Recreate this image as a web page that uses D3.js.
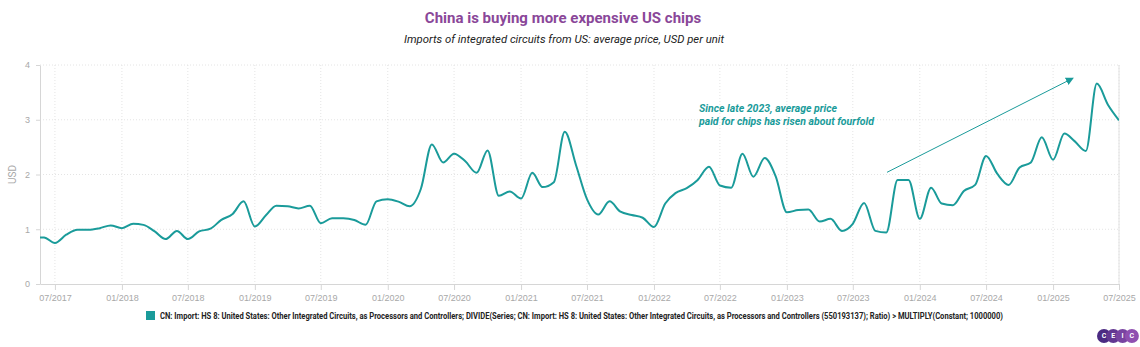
<!DOCTYPE html>
<html lang="en">
<head>
<meta charset="UTF-8">
<script src="https://d3js.org/d3.v7.min.js"></script>
<style>
    body { margin: 0; background: #fff; font-family: Roboto, "Noto Sans", sans-serif; }
    .grid line { stroke: #e4e4e4; stroke-dasharray: 1,2; }
    .axis text { fill: #a8a8a8; font-size: 9px; }
    .axis path, .axis line { stroke: #d6d6d6; }
</style>
</head>
<body>
<script>
    // monthly observations, May 2017 .. Jul 2025
    var startMonth = "2017-05";
    var prices = [
        0.85, 0.85, 0.75, 0.90, 0.99, 0.99, 1.02, 1.07,
        1.02, 1.10, 1.08, 0.96, 0.82, 0.97, 0.82, 0.96, 1.01, 1.17, 1.28, 1.51,
        1.05, 1.26, 1.43, 1.42, 1.38, 1.43, 1.11, 1.20, 1.20, 1.17, 1.08, 1.51,
        1.55, 1.50, 1.42, 1.74, 2.55, 2.22, 2.38, 2.24, 2.03, 2.44, 1.61, 1.69,
        1.56, 2.03, 1.77, 1.86, 2.78, 2.17, 1.55, 1.27, 1.51, 1.32, 1.26, 1.21,
        1.04, 1.47, 1.66, 1.75, 1.90, 2.14, 1.80, 1.76, 2.38, 1.96, 2.30, 1.97,
        1.31, 1.35, 1.36, 1.14, 1.19, 0.97, 1.10, 1.48, 0.97, 0.94, 1.90, 1.90,
        1.19, 1.76, 1.47, 1.44, 1.70, 1.81, 2.34, 2.01, 1.81, 2.13, 2.22, 2.68,
        2.27, 2.75, 2.61, 2.43, 3.66, 3.27, 2.99
    ];
    var yTicks = [0, 1, 2, 3, 4];
    var xTicks = ["2017-07", "2018-01", "2018-07", "2019-01", "2019-07", "2020-01", "2020-07",
        "2021-01", "2021-07", "2022-01", "2022-07", "2023-01", "2023-07", "2024-01",
        "2024-07", "2025-01", "2025-07"];
    var xDomain = ["2017-05-21", "2025-07-01"];

    var title = "China is buying more expensive US chips";
    var subtitle = "Imports of integrated circuits from US: average price, USD per unit";
    var yLabel = "USD";
    var noteLines = ["Since late 2023, average price", "paid for chips has risen about fourfold"];
    var arrowFrom = ["2023-10-03", 2.04];
    var arrowTo = ["2025-02-25", 3.76];
    var legendText = "CN: Import: HS 8: United States: Other Integrated Circuits, as Processors and Controllers; DIVIDE(Series; CN: Import: HS 8: United States: Other Integrated Circuits, as Processors and Controllers (550193137); Ratio) > MULTIPLY(Constant; 1000000)";
    var logoLetters = ["C", "E", "I", "C"];

    var teal = "#1a9b9a";
    var W = 1140, H = 347;
    var margin = {top: 65, right: 21, bottom: 63, left: 40};
    var width = W - margin.left - margin.right,
        height = H - margin.top - margin.bottom;

    var parseMonth = d3.timeParse("%Y-%m");
    var parseDay = d3.timeParse("%Y-%m-%d");
    var m0 = parseMonth(startMonth);
    var data = prices.map(function (v, i) {
        return {date: d3.timeMonth.offset(m0, i), value: v};
    });

    var svg = d3.select("body").append("svg")
        .attr("width", W)
        .attr("height", H);

    svg.append("text")
        .attr("x", 563).attr("y", 23)
        .attr("text-anchor", "middle")
        .style("font-size", "15px").style("font-weight", "bold")
        .style("fill", "#8a4799")
        .text(title);

    svg.append("text")
        .attr("x", 564).attr("y", 43)
        .attr("text-anchor", "middle")
        .style("font-size", "11.3px").style("font-style", "italic")
        .style("fill", "#222")
        .text(subtitle);

    var g = svg.append("g")
        .attr("transform", "translate(" + margin.left + "," + margin.top + ")");

    var x = d3.scaleTime()
        .domain(xDomain.map(parseDay))
        .range([0, width]);
    var y = d3.scaleLinear()
        .domain([0, 4])
        .range([height, 0]);

    // grid
    g.append("g").attr("class", "grid")
        .selectAll("line")
        .data(yTicks.filter(function (d) { return d > 0; }))
        .enter().append("line")
        .attr("x1", 0).attr("x2", width)
        .attr("y1", function (d) { return y(d); })
        .attr("y2", function (d) { return y(d); });

    g.append("g").attr("class", "grid")
        .selectAll("line")
        .data(xTicks.map(parseMonth))
        .enter().append("line")
        .attr("x1", function (d) { return x(d); })
        .attr("x2", function (d) { return x(d); })
        .attr("y1", 0).attr("y2", height);

    // right border
    g.append("line")
        .attr("x1", width).attr("x2", width)
        .attr("y1", 0).attr("y2", height)
        .style("stroke", "#e2e2e2");

    // axes
    g.append("g").attr("class", "axis")
        .attr("transform", "translate(0," + height + ")")
        .call(d3.axisBottom(x)
            .tickValues(xTicks.map(parseMonth))
            .tickFormat(d3.timeFormat("%m/%Y"))
            .tickSize(6)
            .tickSizeOuter(0)
            .tickPadding(5));

    g.append("g").attr("class", "axis")
        .call(d3.axisLeft(y)
            .tickValues(yTicks)
            .tickFormat(d3.format("d"))
            .tickSize(4)
            .tickSizeOuter(0)
            .tickPadding(6));

    svg.append("text")
        .attr("transform", "translate(16," + (margin.top + height / 2) + ") rotate(-90)")
        .attr("text-anchor", "middle")
        .style("font-size", "10px")
        .style("fill", "#a8a8a8")
        .text(yLabel);

    // line
    g.append("clipPath").attr("id", "clip")
        .append("rect")
        .attr("width", width).attr("height", height);

    var line = d3.line()
        .x(function (d) { return x(d.date); })
        .y(function (d) { return y(d.value); })
        .curve(d3.curveMonotoneX);

    g.append("path")
        .datum(data)
        .attr("clip-path", "url(#clip)")
        .attr("d", line)
        .style("fill", "none")
        .style("stroke", teal)
        .style("stroke-width", 2);

    // annotation
    var note = g.append("text")
        .attr("x", 659).attr("y", 47)
        .style("font-size", "10.5px")
        .style("font-weight", "bold")
        .style("font-style", "italic")
        .style("fill", teal);
    note.selectAll("tspan")
        .data(noteLines)
        .enter().append("tspan")
        .attr("x", 659)
        .attr("dy", function (d, i) { return i === 0 ? 0 : 12.5; })
        .text(function (d) { return d; });

    svg.append("defs").append("marker")
        .attr("id", "arrow")
        .attr("viewBox", "0 0 10 10")
        .attr("refX", 9).attr("refY", 5)
        .attr("markerWidth", 8).attr("markerHeight", 8)
        .attr("markerUnits", "userSpaceOnUse")
        .attr("orient", "auto")
        .append("path")
        .attr("d", "M0,0 L10,5 L0,10 z")
        .style("fill", teal);

    g.append("line")
        .attr("x1", x(parseDay(arrowFrom[0]))).attr("y1", y(arrowFrom[1]))
        .attr("x2", x(parseDay(arrowTo[0]))).attr("y2", y(arrowTo[1]))
        .attr("marker-end", "url(#arrow)")
        .style("stroke", teal)
        .style("stroke-width", 1);

    // legend
    var legend = svg.append("g").attr("transform", "translate(146,311)");
    legend.append("rect")
        .attr("width", 9).attr("height", 9)
        .style("fill", teal);
    legend.append("text")
        .attr("x", 14).attr("y", 8)
        .attr("textLength", 843)
        .attr("lengthAdjust", "spacingAndGlyphs")
        .style("font-size", "8.5px")
        .style("font-weight", "bold")
        .style("fill", "#222")
        .text(legendText);

    // logo
    var logo = svg.append("g").attr("transform", "translate(1104,336)");
    var lg = logo.selectAll("g")
        .data(logoLetters)
        .enter().append("g")
        .attr("transform", function (d, i) { return "translate(" + (i * 9.3) + ",0)"; });
    lg.append("circle")
        .attr("r", 7)
        .style("fill", function (d, i) { return d3.interpolateRgb("#4b2a82", "#8f4fb0")(i / 3); });
    lg.append("text")
        .attr("text-anchor", "middle")
        .attr("dy", "0.35em")
        .style("font-size", "7px")
        .style("font-weight", "bold")
        .style("fill", "#fff")
        .text(function (d) { return d; });
</script>
</body>
</html>
